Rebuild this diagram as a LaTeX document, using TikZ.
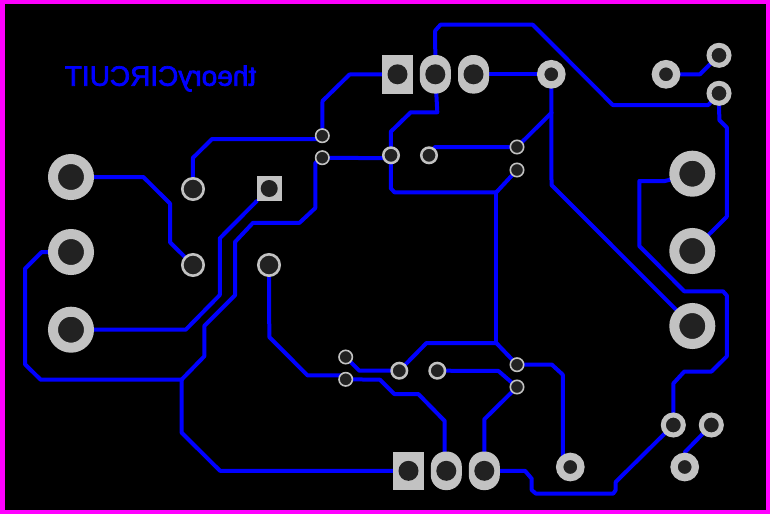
\documentclass[tikz,border=0pt]{standalone}
\usepackage{fontspec}
\newfontfamily\silkfont[FakeBold=2.5]{Liberation Sans}
\usetikzlibrary{backgrounds}
\definecolor{padgray}{HTML}{C2C2C2}
\definecolor{holegray}{HTML}{222222}
\definecolor{edgemagenta}{HTML}{FF00FF}
\definecolor{traceblue}{HTML}{0000FF}
\tikzset{
  ringpad/.style 2 args={circle,draw=padgray,fill=holegray,line width=#1,minimum size=#2,inner sep=0pt},
  jackpad/.style={ringpad={10pt}{36pt}},
  leadpad/.style={ringpad={2.6pt}{21.4pt}},
  smallpad/.style={ringpad={5pt}{20pt}},
  widepad/.style={ringpad={7.3pt}{21.3pt}},
  viapad/.style={ringpad={2.5pt}{15.5pt}},
  tinypad/.style={ringpad={1.6pt}{13.4pt}},
  sqpad/.style 2 args={rectangle,fill=padgray,minimum width=#1,minimum height=#2,inner sep=0pt},
  ovalpad/.style={rectangle,rounded corners=15pt,fill=padgray,minimum width=31pt,minimum height=38.6pt,inner sep=0pt},
  drillhole/.style={circle,fill=holegray,minimum size=#1,inner sep=0pt},
  trace/.style={draw=traceblue,line width=4pt,line cap=round,line join=round}
}
\begin{document}
\begin{tikzpicture}[x=1pt,y=-1pt]
%%%%% Pads %%%%%
\foreach \name/\x/\y in {jackA/71/177,jackB/71/252,jackC/71/329.7,jackD/692.3/173.7,jackE/692.3/251,jackF/692.3/326}{
\node[jackpad] (\name) at (\x,\y) {};
}
\foreach \name/\x/\y in {leadA/193/189,leadB/193/265,leadC/269/265}{
\node[leadpad] (\name) at (\x,\y) {};
}
\foreach \name/\x/\y in {tinyA/322.3/135.7,tinyB/322.3/157.7,tinyC/517/147,tinyD/517/170,tinyE/345.7/357,tinyF/345.7/379.3,tinyG/517/364.7,tinyH/517/387}{
\node[tinypad] (\name) at (\x,\y) {};
}
\foreach \name/\x/\y in {viaA/391/155.3,viaB/429/155.3,viaC/399.3/370.7,viaD/437.3/370.7}{
\node[viapad] (\name) at (\x,\y) {};
}
\foreach \name/\x/\y in {wideA/551.3/74.3,wideB/666/74.3,wideC/570.3/467,wideD/684.7/467}{
\node[widepad] (\name) at (\x,\y) {};
}
\foreach \name/\x/\y in {smallA/719/55.3,smallB/719/93.3,smallC/673.3/425,smallD/711.3/425}{
\node[smallpad] (\name) at (\x,\y) {};
}
%%%%% Pin headers %%%%%
\node[sqpad={25pt}{25pt}] (headA) at (269.2,188.5) {};
\node[drillhole=17pt] (holeA) at (headA) {};
\node[sqpad={31pt}{38.6pt}] (headB) at (397.5,74.3) {};
\node[drillhole=20pt] (holeB) at (headB) {};
\node[ovalpad] (headC) at (435.3,74.3) {};
\node[drillhole=20pt] (holeC) at (headC) {};
\node[ovalpad] (headD) at (473.5,74.3) {};
\node[drillhole=20pt] (holeD) at (headD) {};
\node[sqpad={31pt}{38.6pt}] (headE) at (408.5,470.8) {};
\node[drillhole=20pt] (holeE) at (headE) {};
\node[ovalpad] (headF) at (446.3,470.8) {};
\node[drillhole=20pt] (holeF) at (headF) {};
\node[ovalpad] (headG) at (484.3,470.8) {};
\node[drillhole=20pt] (holeG) at (headG) {};
%%%%% Mirrored text %%%%%
\node[xscale=-1,text=traceblue,inner sep=0pt] (boardname) at (160.5,78.5) {\silkfont\fontsize{28}{28}\selectfont theoryCIRCUIT};
%%%%% Traces %%%%%
\begin{pgfonlayer}{background}
\fill[edgemagenta] (0,0) rectangle (770,514);
\fill[black] (5,4) rectangle (766,510);
\coordinate (jointA) at (181.5,379.7);
\coordinate (jointB) at (496.3,343);
\coordinate (jointC) at (496.3,192.3);
\coordinate (jointD) at (551.5,112.8);
\draw[trace] (headB) -- (349.5,74.5) -- (322.5,101) -- (tinyA);
\draw[trace] (tinyA.center) -- (318,139) -- (212,139) -- (192.8,158) -- (leadA);
\draw[trace] (tinyB.center) -- (383,158.2) -- (viaA.center);
\draw[trace] (tinyB.center) -- (315.3,163) -- (315.3,208) -- (299.5,222.8) -- (253,222.8) -- (235,242) -- (235,295.3) -- (204.3,326) -- (204.3,356.3) -- (jointA);
\draw[trace] (jointA) -- (40.7,379.7) -- (25,364.3) -- (25,268.7) -- (41.7,252) -- (jackB);
\draw[trace] (jointA) -- (181.5,432.5) -- (220,470.8) -- (headE);
\draw[trace] (jackA) -- (143.3,177) -- (170,203.5) -- (170,242.3) -- (leadB);
\draw[trace] (headA) -- (219.8,238.3) -- (219.8,295) -- (185.7,329.7) -- (jackC);
\draw[trace] (leadC) -- (269.3,337) -- (307.5,375.4) -- (340,375.4) -- (tinyF.center);
\draw[trace] (tinyF) -- (380,379.7) -- (394.3,394) -- (418.3,394) -- (444.7,421) -- (444.7,455) -- (headF.center);
\draw[trace] (tinyE) -- (359.3,370.7) -- (viaC);
\draw[trace] (viaC) -- (426.5,343) -- (jointB);
\draw[trace] (jointB) -- (jointC);
\draw[trace] (jointB) -- (tinyG);
\draw[trace] (jointC) -- (394.5,192.3) -- (390.8,188.3) -- (viaA);
\draw[trace] (jointC) -- (tinyD);
\draw[trace] (viaA) -- (390.8,131.7) -- (410.7,112.3) -- (437.3,112.3) -- (headC.center);
\draw[trace] (headC) -- (435.2,30.7) -- (440.5,24.7) -- (532.7,24.7) -- (612.8,105) -- (708.3,105) -- (smallB);
\draw[trace] (smallB) -- (719.3,120) -- (726.8,127.5) -- (726.8,216.7) -- (jackE);
\draw[trace] (headD) -- (wideA);
\draw[trace] (wideA) -- (551.5,185) -- (jackF);
\draw[trace] (tinyC) -- (jointD);
\draw[trace] (tinyC) -- (435,147) -- (viaB);
\draw[trace] (jackD.center) -- (665,181) -- (639.3,181) -- (639.3,246) -- (684.3,291.3) -- (723,291.3) -- (726.8,295.5) -- (726.8,356.3) -- (711.5,371.5) -- (684.3,371.5) -- (673.3,383.5) -- (smallC);
\draw[trace] (smallC) -- (615.7,482) -- (615.7,490) -- (613.3,493.5) -- (535.7,493.5) -- (531.7,490) -- (531.7,478.7) -- (525,470.8) -- (headG);
\draw[trace] (headG) -- (484.3,419.3) -- (tinyH);
\draw[trace] (viaD) -- (498.3,370.9) -- (tinyH);
\draw[trace] (tinyG) -- (551.7,364.5) -- (562.8,374.7) -- (562.8,455) -- (wideC.center);
\draw[trace] (smallD) -- (685,452) -- (wideD.center);
\draw[trace] (wideB) -- (700,74.3) -- (smallA);
\end{pgfonlayer}
\end{tikzpicture}
\end{document}
